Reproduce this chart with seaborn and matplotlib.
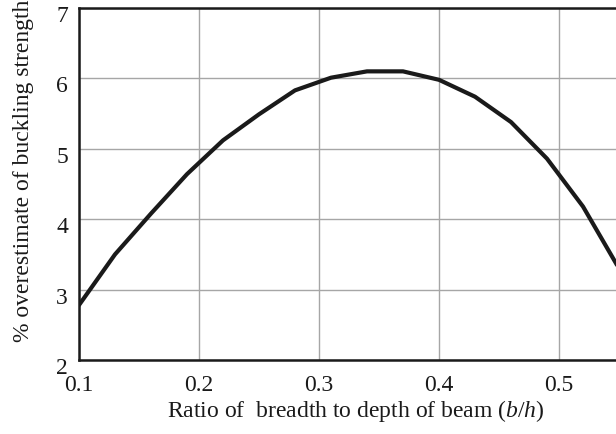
import matplotlib
matplotlib.use("Agg")
import matplotlib.pyplot as plt
import matplotlib.transforms as mtransforms
import numpy as np
import pandas as pd
import seaborn as sns

# Ratio b/h and the corresponding % overestimate of buckling strength
ratio = [0.10, 0.13, 0.16, 0.19, 0.22, 0.25, 0.28, 0.31,
         0.34, 0.37, 0.40, 0.43, 0.46, 0.49, 0.52, 0.55]
overestimate = [2.78, 3.50, 4.08, 4.64, 5.12, 5.49, 5.83, 6.01,
                6.10, 6.10, 5.98, 5.74, 5.38, 4.86, 4.18, 3.30]
x_ticks = [0.1, 0.2, 0.3, 0.4, 0.5]
y_ticks = [2, 3, 4, 5, 6, 7]

df = pd.DataFrame({"ratio": ratio, "overestimate": overestimate})

sns.set_style("white")
plt.rcParams["font.family"] = ["Liberation Serif", "DejaVu Serif"]
plt.rcParams["mathtext.fontset"] = "custom"
plt.rcParams["mathtext.rm"] = "Liberation Serif"
plt.rcParams["mathtext.it"] = "Liberation Serif:italic"

fig = plt.figure(figsize=(6.16, 4.34), dpi=100)
ax = fig.add_axes([79 / 616, 1 - 360 / 434, 1 - 79 / 616, (360 - 8) / 434])

sns.lineplot(data=df, x="ratio", y="overestimate", ax=ax,
             color="#1a1a1a", linewidth=3.0, sort=False)

ax.set_xlim(0.1, 0.5475)
ax.set_ylim(2, 7)
ax.set_xticks(x_ticks)
ax.set_xticklabels([f"{t:.1f}" for t in x_ticks])
ax.set_yticks(y_ticks)
ax.set_yticklabels([str(t) for t in y_ticks])

ax.grid(True, color="#a6a6a6", linewidth=1.0)
ax.set_axisbelow(True)

for side in ("left", "bottom", "top"):
    ax.spines[side].set_visible(True)
    ax.spines[side].set_color("#1a1a1a")
    ax.spines[side].set_linewidth(1.8)
ax.spines["right"].set_visible(False)

ax.tick_params(axis="both", length=0, labelsize=17, colors="#1a1a1a")
ax.tick_params(axis="x", pad=10.5)
ax.tick_params(axis="y", pad=8)

# nudge the y tick labels slightly downward
offset = mtransforms.ScaledTranslation(0, -6 / 100, fig.dpi_scale_trans)
for lbl in ax.get_yticklabels():
    lbl.set_transform(lbl.get_transform() + offset)

ax.set_xlabel("Ratio of  breadth to depth of beam ($\\it{b/h}$)",
              fontsize=17, color="#1a1a1a")
ax.xaxis.set_label_coords(0.516, -0.108)
ax.set_ylabel("% overestimate of buckling strength",
              fontsize=17, color="#1a1a1a")
ax.yaxis.set_label_coords(-0.083, 0.537)

fig.savefig("out.png", dpi=100)
